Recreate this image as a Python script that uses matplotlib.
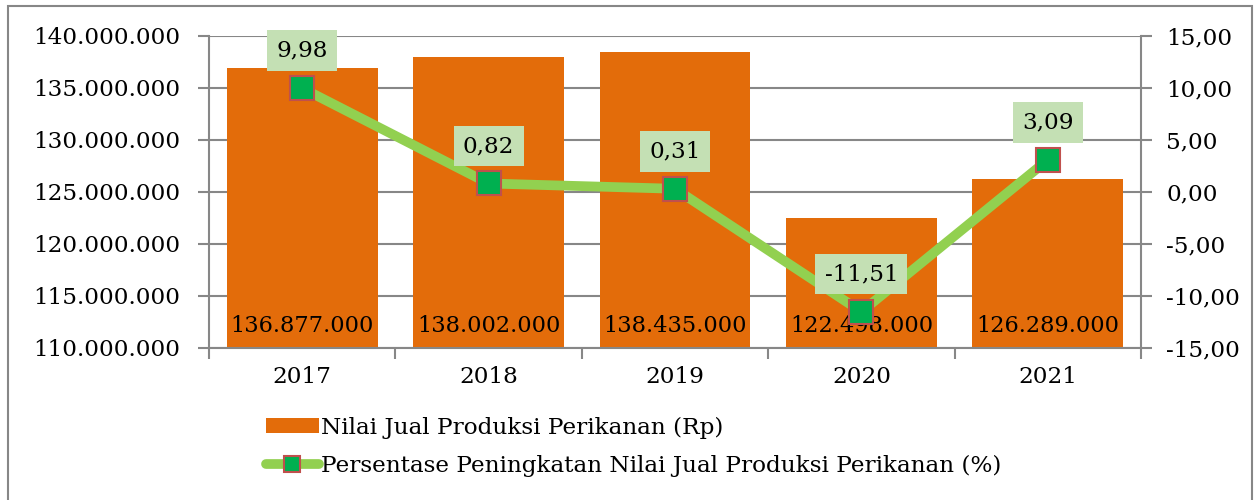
import matplotlib.pyplot as plt
from matplotlib.patches import Rectangle
from matplotlib.lines import Line2D
from matplotlib.ticker import FuncFormatter

plt.rcParams['font.family'] = ['DejaVu Serif']

# Data
years = ["2017", "2018", "2019", "2020", "2021"]
nilai_jual = [136877000, 138002000, 138435000, 122498000, 126289000]
persen = [9.98, 0.82, 0.31, -11.51, 3.09]

bar_color = "#E36C0A"
line_color = "#92D050"
marker_color = "#00B050"
marker_edge = "#C0504D"
label_bg = "#C4E0B4"
grid_color = "#878787"
fs = 16.7

fig = plt.figure(figsize=(12.57, 5), dpi=100)
ax = fig.add_axes([209 / 1257, 1 - 348 / 500, 932 / 1257, 312 / 500])
ax2 = ax.twinx()

x = list(range(len(years)))
ax.bar(x, nilai_jual, width=0.81, color=bar_color, zorder=2)
ax.set_axisbelow(True)
ax.set_ylim(110000000, 140000000)
ax.set_xlim(-0.5, len(years) - 0.5)
ax.set_yticks(range(110000000, 140000001, 5000000))
ax.yaxis.set_major_formatter(FuncFormatter(lambda v, p: f"{int(v):,}".replace(",", ".")))
ax.yaxis.grid(True, color=grid_color, linewidth=1.5)

# category boundaries get the ticks, names go in the middle
ax.set_xticks([i - 0.5 for i in range(len(years) + 1)])
ax.set_xticklabels([])
ax.set_xticks(x, minor=True)
ax.set_xticklabels(years, minor=True)
ax.tick_params(axis="x", which="major", length=8, width=1.5, color=grid_color, direction="out")
ax.tick_params(axis="x", which="minor", length=0, pad=13, labelsize=fs)
ax.tick_params(axis="y", length=8, width=1.5, color=grid_color, labelsize=fs, pad=13)

for s in ["left", "bottom"]:
    ax.spines[s].set_color(grid_color)
    ax.spines[s].set_linewidth(1.5)
for s in ["top", "right"]:
    ax.spines[s].set_visible(False)
for s in ["top", "left", "bottom"]:
    ax2.spines[s].set_visible(False)
ax2.spines["right"].set_color(grid_color)
ax2.spines["right"].set_linewidth(1.5)

for xi, v in zip(x, nilai_jual):
    ax.annotate(f"{v:,}".replace(",", "."), (xi, 110000000), xytext=(0, 16),
                textcoords="offset points", ha="center", va="center", fontsize=16.2, zorder=3)

# percentage line on the right axis
ax2.plot(x, persen, color=line_color, linewidth=7, solid_capstyle="round",
         marker="s", markersize=17.5, markerfacecolor=marker_color,
         markeredgecolor=marker_edge, markeredgewidth=1.5, zorder=4)
ax2.set_ylim(-15, 15)
ax2.set_yticks(range(-15, 16, 5))
ax2.yaxis.set_major_formatter(FuncFormatter(lambda v, p: f"{v:.2f}".replace(".", ",")))
ax2.tick_params(axis="y", length=8, width=1.5, color=grid_color, labelsize=fs, pad=10)

for xi, p in zip(x, persen):
    ax2.annotate(f"{p:.2f}".replace(".", ","), (xi, p), xytext=(0, 27),
                 textcoords="offset points", ha="center", va="center", fontsize=fs,
                 bbox=dict(boxstyle="square,pad=0.4", facecolor=label_bg, edgecolor="none"),
                 zorder=5)

# legend under the chart
handles = [
    Rectangle((0, 0), 1, 1, facecolor=bar_color, edgecolor="none"),
    Line2D([0], [0], color=line_color, linewidth=7, solid_capstyle="round",
           marker="s", markersize=11, markerfacecolor=marker_color,
           markeredgecolor=marker_edge, markeredgewidth=1.5),
]
fig.legend(handles, ["Nilai Jual Produksi Perikanan (Rp)",
                     "Persentase Peningkatan Nilai Jual Produksi Perikanan (%)"],
           loc="upper left", bbox_to_anchor=(254 / 1257, 1 - 405 / 500), frameon=False,
           fontsize=fs, handlelength=2.3, handleheight=0.6, handletextpad=0.1,
           labelspacing=0.7, borderpad=0)

# outer chart border
fig.add_artist(Rectangle((8 / 1257, -0.01), 1244 / 1257, 1 - 6 / 500 + 0.01,
                         transform=fig.transFigure, fill=False,
                         edgecolor=grid_color, linewidth=1.5))

fig.savefig("out.png", dpi=100)
